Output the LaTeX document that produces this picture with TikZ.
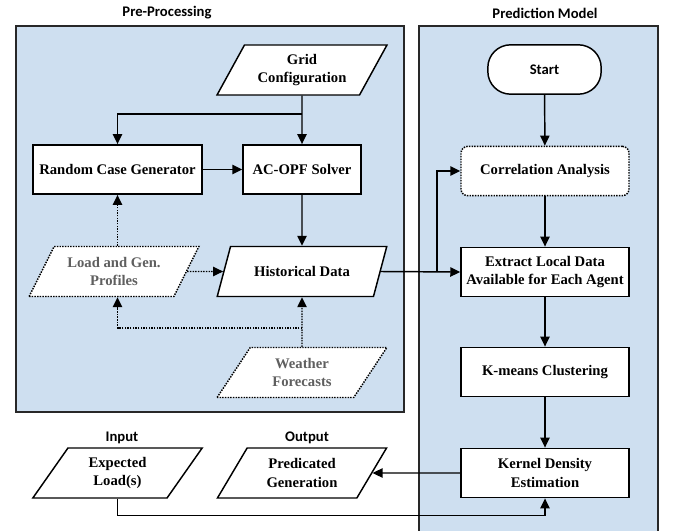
\documentclass[tikz,border=0pt]{standalone}
\usepackage{fontspec}
\setmainfont{Liberation Serif}
\newfontfamily\headfont{Carlito}
\usetikzlibrary{shapes.geometric,arrows.meta}

\definecolor{panelblue}{RGB}{206,223,240}
\definecolor{paneledge}{RGB}{40,40,40}
\definecolor{fadetext}{RGB}{95,95,95}

\tikzset{every picture/.style={line width=0.75pt}}
\tikzset{
  procbox/.style={draw, fill=white, line width=1.1pt, minimum width=126pt, minimum height=37pt,
    align=center, inner sep=2pt, font=\bfseries\fontsize{11}{14}\selectfont},
  databox/.style={trapezium, trapezium left angle=59, trapezium right angle=121, trapezium stretches=true,
    draw, fill=white, line width=1.1pt, minimum width=127.5pt, minimum height=37.5pt,
    align=center, inner sep=2pt, font=\bfseries\fontsize{11}{14}\selectfont},
  dotbox/.style={dash pattern=on 1.1pt off 0.9pt, text=fadetext},
  headtext/.style={font=\headfont\bfseries\fontsize{11}{13}\selectfont},
  flow/.style={line width=1.1pt, -{Triangle[length=7.5pt,width=7pt]}},
  dotflow/.style={flow, dash pattern=on 1.1pt off 0.9pt},
}

\begin{document}
\begin{tikzpicture}[x=0.75pt,y=0.75pt,yscale=-1,xscale=1]
\useasboundingbox (0,0) rectangle (675,531);

%Panels
\draw [fill=panelblue, draw=paneledge, line width=1.5pt] (16,26) rectangle (404,412);
\draw [fill=panelblue, draw=paneledge, line width=1.5pt] (658,531) -- (658,26) -- (419,26) -- (419,531);

% Text Node
\node [headtext] (pretitle) at (167,13) {Pre-Processing};
\node [headtext] (modeltitle) at (545,13) {Prediction Model};
\node [headtext] (intitle) at (122,438) {Input};
\node [headtext] (outtitle) at (307,438) {Output};

%Pre-processing nodes
\node [databox] (grid) at (302,70) {Grid\\Configuration};
\node [procbox, minimum width=126.75pt] (rcg) at (117.5,169.5) {Random Case Generator};
\node [procbox, minimum width=88.5pt] (opf) at (302,169.5) {AC-OPF Solver};
\node [databox] (hist) at (302,271.5) {Historical Data};
\node [databox, dotbox] (load) at (114,271.5) {Load and Gen.\\Profiles};
\node [databox, dotbox] (wf) at (302,372.5) {Weather\\Forecasts};

%Prediction model nodes
\node [procbox, minimum width=85pt, rounded corners=17pt, font=\headfont\bfseries\fontsize{11}{13}\selectfont] (start) at (544.5,69.5) {Start};
\node [procbox, rounded corners=5pt, dash pattern=on 1.1pt off 0.9pt] (corr) at (545,171) {Correlation Analysis};
\node [procbox] (ext) at (545,272) {Extract Local Data\\Available for Each Agent};
\node [procbox] (km) at (545,372) {K-means Clustering};
\node [procbox] (kde) at (545,473) {Kernel Density\\Estimation};

%Input / output nodes
\node [databox] (exp) at (117.5,473) {Expected\\Load(s)};
\node [databox] (pred) at (302,473) {Predicated\\Generation};

\coordinate (gsplit) at (302,114);
\coordinate (wsplit) at (302,328);
\coordinate (tap) at (437,271.5);

%Straight Lines
\draw [flow] (grid.south) -- (opf.north);
\draw [flow] (gsplit) -| (rcg.north);
\draw [flow] (rcg.east) -- (opf.west);
\draw [flow] (opf.south) -- (hist.north);
\draw [dotflow] (load.north -| rcg.south) -- (rcg.south);
\draw [dotflow] (load.east) -- (hist.west);
\draw [dotflow] (wf.north) -- (hist.south);
\draw [dotflow] (wsplit) -| (load.south -| rcg.south);
\draw [flow] (hist.east) -- (ext.west);
\draw [flow] (tap) |- (corr.west);
\draw [flow] (start) -- (corr);
\draw [flow] (corr) -- (ext);
\draw [flow] (ext) -- (km);
\draw [flow] (km) -- (kde);
\draw [flow] (kde.west) -- (pred.east);
\draw [flow] (exp.south) -- ++(0,17) -| (kde.south);

\end{tikzpicture}
\end{document}
